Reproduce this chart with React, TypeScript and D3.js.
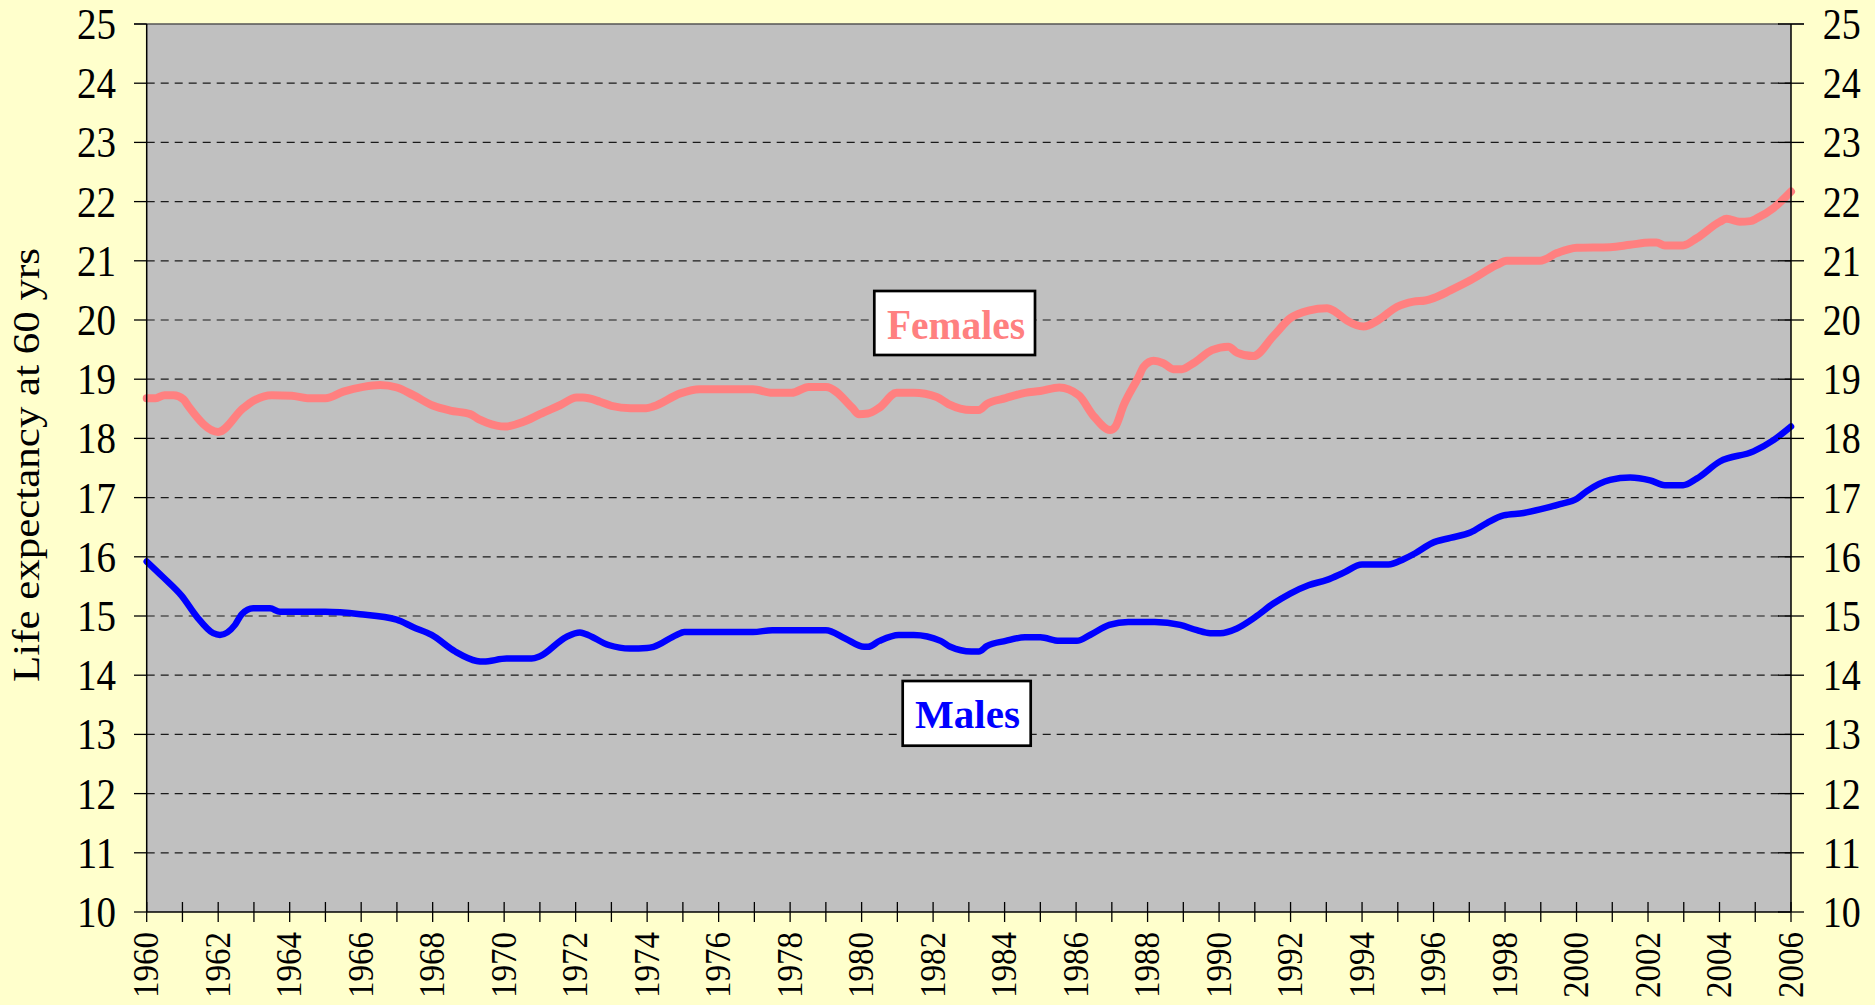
import React from "react";
import * as d3 from "d3";

const femaleYears = [1960.0, 1960.25, 1960.5, 1960.75, 1961.03, 1961.17, 1962.0, 1962.7, 1963.0, 1963.5, 1964.06, 1964.5, 1965.0, 1965.5, 1966.06, 1966.53, 1967.0, 1967.46, 1968.02, 1968.49, 1969.05, 1969.3, 1969.5, 1970.02, 1970.54, 1971.0, 1971.56, 1972.03, 1972.2, 1972.68, 1973.0, 1973.54, 1973.97, 1974.18, 1974.93, 1975.47, 1976.96, 1977.5, 1978.04, 1978.52, 1979.0, 1979.75, 1979.91, 1980.18, 1980.5, 1980.98, 1981.46, 1982.1, 1982.43, 1983.07, 1983.28, 1983.5, 1984.03, 1984.57, 1985.0, 1985.53, 1986.07, 1986.5, 1986.95, 1987.09, 1987.33, 1987.75, 1987.89, 1988.17, 1988.44, 1988.72, 1988.96, 1989.28, 1989.8, 1990.26, 1990.5, 1990.96, 1991.52, 1991.99, 1992.5, 1993.02, 1993.25, 1993.58, 1994.04, 1994.46, 1994.97, 1995.44, 1995.77, 1996.0, 1996.47, 1997.03, 1997.77, 1998.05, 1998.98, 1999.45, 2000.01, 2000.94, 2001.5, 2002.06, 2002.24, 2002.47, 2002.98, 2003.36, 2004.01, 2004.2, 2004.57, 2004.86, 2005.05, 2005.51, 2006.0];
const femaleValues = [18.68, 18.68, 18.73, 18.73, 18.66, 18.54, 18.11, 18.51, 18.64, 18.73, 18.72, 18.68, 18.68, 18.79, 18.87, 18.9, 18.86, 18.73, 18.55, 18.47, 18.41, 18.32, 18.27, 18.2, 18.28, 18.41, 18.56, 18.69, 18.69, 18.62, 18.55, 18.51, 18.51, 18.54, 18.76, 18.83, 18.83, 18.77, 18.77, 18.87, 18.87, 18.51, 18.41, 18.42, 18.52, 18.77, 18.77, 18.7, 18.58, 18.48, 18.48, 18.58, 18.68, 18.77, 18.8, 18.86, 18.73, 18.37, 18.14, 18.19, 18.56, 19.04, 19.21, 19.31, 19.27, 19.17, 19.17, 19.27, 19.49, 19.55, 19.45, 19.39, 19.73, 20.03, 20.16, 20.2, 20.14, 19.99, 19.89, 20.0, 20.22, 20.31, 20.33, 20.37, 20.5, 20.67, 20.93, 21.0, 21.0, 21.13, 21.22, 21.23, 21.27, 21.31, 21.31, 21.26, 21.26, 21.38, 21.66, 21.71, 21.66, 21.67, 21.72, 21.89, 22.17];

const maleYears = [1960.0, 1960.47, 1960.98, 1961.4, 1961.86, 1962.05, 1962.47, 1962.66, 1962.98, 1963.45, 1963.73, 1964.99, 1965.97, 1966.99, 1967.46, 1967.97, 1968.63, 1969.23, 1969.42, 1970.07, 1970.77, 1971.0, 1971.75, 1972.12, 1972.26, 1972.92, 1973.52, 1974.0, 1974.18, 1974.82, 1975.04, 1976.96, 1977.5, 1979.0, 1979.54, 1980.07, 1980.18, 1980.5, 1981.04, 1981.46, 1982.21, 1982.48, 1983.07, 1983.28, 1983.5, 1984.03, 1984.57, 1985.0, 1985.53, 1986.02, 1986.39, 1986.93, 1987.46, 1988.2, 1988.91, 1989.38, 1989.75, 1990.03, 1990.5, 1991.01, 1991.52, 1991.99, 1992.5, 1993.02, 1993.48, 1994.0, 1994.74, 1995.16, 1995.49, 1995.95, 1996.47, 1997.03, 1997.49, 1997.96, 1998.52, 1998.98, 1999.54, 2000.01, 2000.29, 2000.94, 2001.5, 2002.06, 2002.47, 2002.98, 2003.36, 2004.01, 2004.95, 2005.51, 2006.0];
const maleValues = [15.92, 15.65, 15.34, 14.99, 14.71, 14.68, 14.85, 15.03, 15.13, 15.13, 15.07, 15.07, 15.03, 14.94, 14.81, 14.68, 14.4, 14.24, 14.23, 14.28, 14.28, 14.32, 14.65, 14.72, 14.7, 14.51, 14.45, 14.46, 14.48, 14.68, 14.73, 14.73, 14.76, 14.76, 14.62, 14.48, 14.48, 14.58, 14.68, 14.68, 14.58, 14.48, 14.4, 14.4, 14.49, 14.58, 14.64, 14.64, 14.58, 14.58, 14.68, 14.85, 14.9, 14.9, 14.85, 14.76, 14.71, 14.71, 14.79, 14.98, 15.21, 15.38, 15.52, 15.61, 15.73, 15.87, 15.87, 15.96, 16.06, 16.23, 16.32, 16.41, 16.57, 16.7, 16.74, 16.8, 16.89, 16.98, 17.11, 17.3, 17.34, 17.29, 17.21, 17.21, 17.32, 17.61, 17.78, 17.97, 18.2];

const yTicks = d3.range(10, 26, 1);
const xTicks = d3.range(1960, 2007, 1);
const xLabelYears = d3.range(1960, 2007, 2);
const yTitle = "Life expectancy at 60 yrs";
const seriesNames = ["Females", "Males"];

const W = 1875;
const H = 1005;
const L = 146.7;
const R = 1791;
const T = 24;
const B = 912;
const FONT = "'Liberation Serif', 'Times New Roman', serif";

export default function App() {
  const x = d3.scaleLinear().domain([1960, 2006]).range([L, R]);
  const y = d3.scaleLinear().domain([10, 25]).range([B, T]);
  const line = d3
    .line<[number, number]>()
    .x((d) => x(d[0]))
    .y((d) => y(d[1]))
    .curve(d3.curveMonotoneX);
  const female: [number, number][] = femaleYears.map((yr, i) => [yr, femaleValues[i]]);
  const male: [number, number][] = maleYears.map((yr, i) => [yr, maleValues[i]]);

  return (
    <div style={{ width: W, height: H }}>
      <style>{`html,body{margin:0;padding:0;background:#FFFFCC;}`}</style>
      <svg width={W} height={H} style={{ display: "block" }}>
        <rect x={0} y={0} width={W} height={H} fill="#FFFFCC" />
        <rect x={L} y={T} width={R - L} height={B - T} fill="#C0C0C0" />
        {/* gridlines */}
        {yTicks.filter((t) => t > 10 && t < 25).map((t) => (
          <line key={"g" + t} x1={L} x2={R} y1={y(t)} y2={y(t)} stroke="#1a1a1a" strokeWidth={1.2} strokeDasharray="8 6" />
        ))}
        <line x1={L - 12.7} x2={R + 13} y1={T} y2={T} stroke="#555" strokeWidth={1.5} />
        {/* series */}
        <path d={line(female) || ""} fill="none" stroke="#FF8080" strokeWidth={8} strokeLinejoin="round" strokeLinecap="round" />
        <path d={line(male) || ""} fill="none" stroke="#0000FF" strokeWidth={6.5} strokeLinejoin="round" strokeLinecap="round" />
        {/* axes */}
        <line x1={L} x2={L} y1={T} y2={B} stroke="#000" strokeWidth={1.5} />
        <line x1={R} x2={R} y1={T} y2={B} stroke="#000" strokeWidth={1.5} />
        <line x1={L} x2={R} y1={B} y2={B} stroke="#000" strokeWidth={1.5} />
        {yTicks.map((t) => (
          <g key={"yt" + t}>
            <line x1={L - 12.7} x2={L} y1={y(t)} y2={y(t)} stroke="#000" strokeWidth={1.3} />
            <line x1={R - 13} x2={R + 13} y1={y(t)} y2={y(t)} stroke="#000" strokeWidth={1.3} />
            <text x={116} y={y(t) + 15} textAnchor="end" fontFamily={FONT} fontSize={44} textLength={39} lengthAdjust="spacingAndGlyphs" fill="#000">
              {t}
            </text>
            <text x={1822.7} y={y(t) + 15} textAnchor="start" fontFamily={FONT} fontSize={44} textLength={38} lengthAdjust="spacingAndGlyphs" fill="#000">
              {t}
            </text>
          </g>
        ))}
        {xTicks.map((t) => (
          <line key={"xt" + t} x1={x(t)} x2={x(t)} y1={B - 10} y2={B + 10} stroke="#000" strokeWidth={1.3} />
        ))}
        {xLabelYears.map((t) => (
          <text
            key={"xl" + t}
            transform={`translate(${x(t) + 11.7},${932}) rotate(-90)`}
            textAnchor="end"
            fontFamily={FONT}
            fontSize={35}
            textLength={66}
            lengthAdjust="spacingAndGlyphs"
            fill="#000"
          >
            {t}
          </text>
        ))}
        {/* y title */}
        <text
          transform={`translate(39.3,465) rotate(-90)`}
          textAnchor="middle"
          fontFamily={FONT}
          fontSize={37}
          textLength={434}
          lengthAdjust="spacingAndGlyphs"
          fill="#000"
        >
          {yTitle}
        </text>
        {/* series labels */}
        <rect x={874.3} y={291} width={160.7} height={64} fill="#fff" stroke="#000" strokeWidth={2.7} />
        <text x={956} y={339} textAnchor="middle" fontFamily={FONT} fontWeight="bold" fontSize={42} textLength={138} lengthAdjust="spacingAndGlyphs" fill="#FF8080">
          {seriesNames[0]}
        </text>
        <rect x={902.7} y={681} width={128} height={64.7} fill="#fff" stroke="#000" strokeWidth={2.7} />
        <text x={967.5} y={728.3} textAnchor="middle" fontFamily={FONT} fontWeight="bold" fontSize={41} textLength={105} lengthAdjust="spacingAndGlyphs" fill="#0000FF">
          {seriesNames[1]}
        </text>
      </svg>
    </div>
  );
}
